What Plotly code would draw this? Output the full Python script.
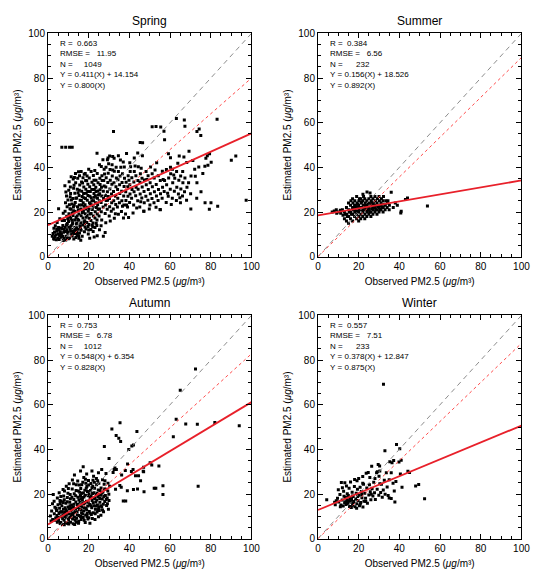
import plotly.graph_objects as go

# ---------------- data ----------------
seasons = ["Spring", "Summer", "Autumn", "Winter"]
r_vals = ["0.663", "0.384", "0.753", "0.557"]
rmse_vals = ["11.95", "6.56", "6.78", "7.51"]
n_vals = ["1049", "232", "1012", "233"]
fit_slope = [0.411, 0.156, 0.548, 0.378]
fit_icpt = [14.154, 18.526, 6.354, 12.847]
origin_slope = [0.800, 0.892, 0.828, 0.875]
axis_ticks = [0, 20, 40, 60, 80, 100]

spring_pts = [
    (2.1,9.2),(2.8,8.1),(3.2,11.0),(3.9,9.8),(4.3,12.4),(4.8,8.3),(5.2,13.1),(5.7,9.4),(6.1,11.2),(6.6,10.1),
    (6.9,12.6),(7.3,14.0),(7.8,8.2),(8.2,11.3),(8.5,13.2),(8.9,9.1),(9.3,12.1),(9.8,10.2),(10.2,13.3),(10.6,8.4),
    (11.1,11.4),(11.4,13.8),(11.9,9.3),(12.3,12.2),(12.8,10.4),(13.2,13.1),(13.7,8.6),(14.1,11.2),(14.6,12.3),(15.0,9.4),
    (15.5,10.6),(15.9,13.4),(3.6,13.9),(5.9,12.8),(9.1,14.3),(12.0,14.6),(2.9,12.7),(5.1,10.2),(10.0,8.0),(13.4,12.0),
    (6.3,8.7),(7.7,10.9),(11.6,10.1),(14.4,9.9),(4.1,7.6),(16.3,11.8),(8.7,7.5),(12.7,7.9),
    (2.5,10.4),(3.4,9.0),(4.4,11.4),(5.4,11.9),(6.0,9.9),(7.2,9.2),(7.9,12.3),(9.6,11.1),(10.9,12.6),(12.5,11.0),
    (13.9,10.3),(3.0,7.8),(5.5,7.7),(7.5,7.2),(9.4,8.3),
    (4.5,15.3),(5.8,17.0),(7.0,16.2),(7.5,19.4),(5.2,21.5),
    (8.1,16.2),(8.4,20.3),(8.6,24.1),(8.3,31.8),(9.2,18.1),(9.4,22.4),(9.1,27.2),(10.1,15.8),(10.3,19.2),(10.5,23.3),
    (10.2,29.7),(10.4,33.6),(11.2,17.1),(11.3,21.2),(11.5,25.4),(11.1,28.3),(11.4,35.8),(12.1,15.2),(12.3,18.4),(12.5,22.3),
    (12.2,26.1),(12.6,30.7),(13.1,16.4),(13.3,20.2),(13.4,24.3),(13.2,28.4),(13.6,33.1),(13.5,37.2),(14.2,15.1),(14.3,18.2),
    (14.5,22.4),(14.1,26.3),(14.4,30.2),(14.6,35.1),(15.1,16.3),(15.2,19.1),(15.4,23.2),(15.3,27.4),(15.6,32.1),(15.5,36.2),
    (16.1,15.2),(16.3,18.3),(16.2,21.4),(16.4,25.2),(16.6,29.3),(16.5,33.4),(16.3,38.1),(17.1,14.2),(17.2,17.3),(17.4,20.2),
    (17.3,24.1),(17.5,28.3),(17.6,31.2),(17.2,35.4),(18.1,16.1),(18.3,19.2),(18.2,23.3),(18.4,26.1),(18.6,30.2),(18.5,34.1),
    (18.3,37.3),(19.1,15.3),(19.2,18.4),(19.4,22.1),(19.3,25.3),(19.5,29.2),(19.6,32.4),(19.2,36.1),(20.1,14.4),(20.3,17.2),
    (20.2,21.3),(20.4,24.2),(20.6,27.1),(20.5,31.3),(20.3,35.2),(21.1,16.2),(21.2,19.3),(21.4,23.1),(21.3,26.4),(21.5,30.1),
    (21.6,33.3),(21.2,38.2),(22.1,15.1),(22.3,18.2),(22.2,22.4),(22.4,25.1),(22.6,28.3),(22.5,32.2),(22.3,36.4),(23.1,17.3),
    (23.2,20.1),(23.4,24.2),(23.3,27.3),(23.5,31.1),(23.6,34.2),(24.1,16.4),(24.2,19.1),(24.4,23.3),(24.3,26.2),(24.5,29.4),
    (24.6,33.1),(24.2,37.2),(25.1,18.2),(25.3,21.3),(25.2,25.1),(25.4,28.2),(25.6,32.3),(25.5,35.1),(25.3,41.2),
    (9.7,17.0),(10.8,21.5),(11.9,19.6),(12.9,23.0),(13.8,17.6),(14.9,21.0),(15.8,25.3),(16.9,19.8),(17.8,22.6),(18.8,17.7),
    (19.8,20.4),(20.8,23.7),(21.8,21.1),(22.8,26.6),(23.8,22.0),(24.8,27.6),(10.9,26.8),(12.8,32.0),(14.8,28.6),(16.8,27.0),
    (18.8,28.4),(20.8,29.2),(22.8,30.1),(11.7,16.3),(13.9,14.6),(15.7,13.9),(17.7,15.6),(19.7,13.5),(21.7,14.1),(23.7,15.0),
    (12.4,34.8),(17.0,33.0),(19.0,34.0),
    (9.5,14.9),(10.7,17.9),(11.8,23.6),(12.6,20.6),(13.7,26.2),(14.6,16.6),(15.4,29.8),(16.6,23.1),(17.6,26.4),(18.6,21.3),
    (19.6,27.4),(20.6,19.1),(21.6,25.0),(22.6,34.2),(23.6,29.2),(24.6,21.2),(25.6,30.0),(26.6,34.1),(27.6,31.6),(28.6,25.2),
    (29.6,27.0),(11.0,31.2),(13.0,35.5),(15.0,38.0),(17.8,36.9),(20.0,39.2),(23.0,38.6),(27.8,37.0),(9.8,25.4),(8.8,29.0),
    (14.0,13.0),(16.0,12.4),(18.0,14.8),(20.0,12.0),(22.0,13.4),(24.0,14.0),(26.4,16.4),(28.4,15.2),(30.6,16.0),(32.6,17.2),
    (34.6,19.0),(36.6,22.6),(38.6,23.2),(39.8,34.2),(35.8,40.0),(31.8,38.8),(29.8,41.6),(27.0,43.4),(37.0,42.4),(42.8,40.6),
    (45.8,39.6),(48.6,34.6),(52.6,38.8),(56.6,34.6),(58.8,28.4),(61.8,36.6),(63.8,41.8),(66.8,44.6),(64.8,26.4),(60.6,23.4),
    (45.6,24.6),(43.6,21.8),(49.8,21.4),(41.8,19.6),(39.6,17.6),
    (15.2,8.2),(16.8,9.1),(17.9,11.2),(18.7,12.4),(19.8,10.1),(21.1,12.2),(22.2,11.3),(23.1,13.1),(24.2,9.4),(25.3,12.1),
    (26.1,13.8),(18.2,13.3),(16.1,7.4),(20.5,8.3),(27.2,9.1),(28.1,10.8),(22.7,8.8),
    (26.2,20.1),(26.1,24.3),(26.4,27.2),(26.3,31.1),(26.5,36.2),(26.2,40.4),(27.1,22.2),(27.3,26.1),(27.2,29.3),(27.4,34.1),
    (27.6,39.2),(28.1,19.3),(28.3,23.1),(28.2,27.4),(28.4,31.2),(28.6,35.3),(28.5,40.1),(29.1,21.2),(29.3,25.3),(29.2,29.1),
    (29.4,33.2),(29.6,37.4),(29.5,44.2),(30.1,18.2),(30.3,22.4),(30.2,26.1),(30.4,30.3),(30.6,34.2),(30.5,39.1),(30.3,45.1),
    (31.1,20.3),(31.3,24.2),(31.2,28.1),(31.4,32.4),(31.6,36.1),(31.5,41.2),(32.1,21.4),(32.3,25.1),(32.2,29.2),(32.4,33.1),
    (32.6,38.3),(32.5,44.1),(33.1,19.2),(33.3,23.4),(33.2,27.1),(33.4,31.3),(33.6,35.2),(33.5,40.1),(34.1,22.3),(34.3,26.2),
    (34.2,30.1),(34.4,34.4),(34.6,38.2),(35.1,24.1),(35.3,28.3),(35.2,32.2),(35.4,36.1),(35.6,43.3),(36.1,20.2),(36.3,25.1),
    (36.2,29.3),(36.4,33.2),(36.6,37.1),(37.1,17.3),(37.3,23.1),(37.2,27.2),(37.4,31.4),(37.6,35.1),(37.5,40.2),(38.1,19.1),
    (38.3,25.2),(38.2,29.1),(38.4,33.3),(38.6,46.2),(39.1,22.2),(39.3,27.1),(39.2,31.3),(39.4,36.2),(40.1,24.3),(40.3,28.1),
    (40.2,32.2),(40.4,38.1),(40.6,40.3),
    (41.1,26.2),(41.3,30.1),(41.2,35.3),(42.1,23.2),(42.3,29.1),(42.2,33.4),(42.4,38.2),(43.1,27.3),(43.3,31.1),(43.2,36.2),
    (44.1,25.1),(44.3,30.2),(44.2,34.1),(44.4,40.3),(45.1,22.2),(45.3,28.1),(45.2,33.3),(45.4,37.1),(46.1,26.3),(46.3,31.2),
    (46.2,35.1),(46.4,45.2),(47.1,20.4),(47.3,24.1),(47.2,29.2),(47.4,34.3),(48.1,27.1),(48.3,32.2),(48.2,38.1),(49.1,25.3),
    (49.3,30.1),(49.2,36.2),(50.1,23.1),(50.3,28.2),(50.2,33.1),(50.4,40.2),(51.1,26.1),(51.3,31.3),(51.2,37.1),(52.1,24.2),
    (52.3,29.1),(52.2,35.2),(53.1,22.1),(53.3,27.2),(53.2,32.3),(53.4,42.1),(54.1,25.2),(54.3,30.1),(54.2,36.3),(55.1,21.1),
    (55.3,28.2),(55.2,34.1),
    (56.1,26.2),(56.3,31.1),(56.2,38.3),(57.1,29.2),(57.3,34.1),(58.1,24.3),(58.3,32.2),(58.2,39.1),(59.1,27.1),(59.3,35.2),
    (59.2,46.1),(60.1,30.2),(60.3,37.1),(60.2,44.3),(61.1,26.2),(61.3,33.1),(61.2,39.2),(62.1,29.3),(62.3,35.1),(63.1,25.2),
    (63.3,31.1),(63.2,38.2),(64.1,28.1),(64.3,34.2),(65.1,24.1),(65.3,30.3),(65.2,36.1),(66.1,27.2),(66.3,33.1),(66.2,38.2),
    (67.1,29.1),(67.3,35.2),(68.1,25.3),(68.3,31.1),(68.2,42.2),(69.1,33.1),(69.3,47.2),(70.1,28.2),(70.3,36.1),
    (71.2,43.1),(72.1,39.2),(72.4,36.0),(73.2,33.1),(74.1,40.2),(75.2,29.1),(76.1,37.2),(77.1,40.5),(77.6,44.1),(78.3,45.2),
    (79.4,46.1),(78.6,41.0),(80.2,42.3),
    (6.8,49.0),(8.7,49.0),(10.6,49.0),(11.9,49.0),(32.2,56.1),(45.3,51.1),(46.5,51.0),(51.2,58.2),(53.1,58.3),(55.4,58.1),
    (57.0,56.2),(57.3,52.4),(63.1,61.9),(67.0,61.2),(67.3,58.4),(83.1,61.6),(73.2,56.1),(74.3,57.2),(75.1,54.3),(90.1,43.2),
    (92.3,45.1),(97.4,25.3),(77.2,24.1),(79.3,21.2),(80.1,24.2),(83.4,22.6),(70.2,21.3),(73.1,26.2),(47.1,20.3),(55.2,21.0),
    (24.1,46.3),(29.2,43.4),(31.8,44.9),(34.6,45.2),(40.2,42.1),(42.4,44.2),(44.1,46.4),(60.2,40.1),(64.5,45.1),
]

summer_pts = [
    (7.0,20.0),(8.0,20.5),(9.0,21.0),(9.2,19.5),(10.0,20.0),(11.0,20.8),(11.2,19.5),(12.0,21.0),(13.0,20.0),(12.3,18.5),
    (13.0,17.0),(14.0,16.0),(14.2,19.0),(14.0,22.0),(15.0,15.0),(15.1,18.0),(15.2,21.0),(15.0,24.0),(16.0,17.0),(16.1,20.0),
    (16.0,23.0),(16.2,25.0),(17.0,16.0),(17.1,19.0),(17.0,22.0),(17.2,24.0),(17.0,26.0),(18.0,18.0),(18.1,20.0),(18.2,21.0),
    (18.0,23.0),(18.1,25.0),(19.0,17.0),(19.1,19.0),(19.0,22.0),(19.2,24.0),(19.0,27.0),(20.0,16.0),(20.1,18.0),(20.0,20.0),
    (20.2,21.0),(20.0,23.0),(20.1,25.0),(21.0,17.0),(21.1,19.0),(21.0,22.0),(21.2,24.0),(21.0,26.0),(22.0,18.0),(22.1,20.0),
    (22.0,21.0),(22.2,23.0),(22.0,25.0),(22.1,28.0),(23.0,17.0),(23.1,19.0),(23.0,22.0),(23.2,24.0),(23.0,26.0),(24.0,18.0),
    (24.1,20.0),(24.0,21.0),(24.2,23.0),(24.0,25.0),(24.1,29.0),(25.0,19.0),(25.1,21.0),(25.0,22.0),(25.2,24.0),(25.0,26.0),
    (25.6,28.5),(26.0,18.0),(26.1,20.0),(26.0,23.0),(26.2,25.0),(26.0,27.0),(27.0,19.0),(27.1,21.0),(27.0,22.0),(27.2,24.0),
    (27.0,26.0),(28.0,20.0),(28.1,22.0),(28.0,23.0),(28.2,25.0),(28.0,27.0),(29.0,19.0),(29.1,21.0),(29.0,24.0),(29.2,26.0),
    (30.0,20.0),(30.1,22.0),(30.0,23.0),(30.2,25.0),(30.0,27.0),(31.0,21.0),(31.1,23.0),(31.0,24.0),(31.2,26.0),(32.0,20.0),
    (32.1,22.0),(32.0,25.0),(32.2,27.0),(33.0,21.0),(33.1,23.0),(34.0,22.0),(34.1,24.0),(35.0,21.0),(35.1,23.0),(36.0,28.8),
    (37.0,22.0),(38.0,24.0),(39.0,23.0),(40.7,19.6),(40.9,20.3),(43.0,25.6),(44.0,26.3),(53.8,22.7),
    (18.4,22.5),(20.4,22.0),(21.4,21.0),(23.4,21.0),(22.4,22.5),(24.4,22.0),(26.4,21.5),(27.4,23.0),(19.4,20.5),(25.4,20.0),
    (21.4,24.5),(23.4,23.0),(29.4,22.5),(30.4,21.0),(16.4,19.0),(17.4,21.0),(19.4,23.5),(28.4,21.0),(26.4,24.0),(24.4,24.0),
    (32.4,23.5),(33.4,25.0),(31.4,22.0),(34.4,25.0),(20.4,26.0),(22.4,27.0),(15.4,20.0),(14.4,18.0),(13.4,19.0),
]

autumn_pts = [
    (1.2,10.1),(1.8,12.4),(2.3,8.6),(2.6,19.8),(3.1,11.2),(3.4,14.1),(3.8,9.3),(4.2,12.6),(4.6,7.4),(4.9,15.2),
    (2.2,15.6),(4.4,10.4),(1.5,7.9),
    (5.2,8.1),(5.4,11.3),(5.7,13.6),(5.9,17.1),(6.2,7.2),(6.4,9.8),(6.6,12.1),(6.8,14.7),(7.1,6.4),(7.3,10.6),(7.5,16.2),
    (7.7,19.1),(7.9,8.3),(8.2,11.7),(8.4,13.8),(8.6,7.1),(8.8,15.9),(9.1,9.4),(9.3,12.3),(9.5,18.4),(9.7,6.8),(9.9,14.2),
    (5.5,20.6),(8.1,21.3),(6.0,15.8),(7.0,11.9),(9.0,10.8),(8.0,17.4),
    (10.1,8.2),(10.3,11.1),(10.5,13.4),(10.7,16.3),(10.9,19.8),(11.1,7.3),(11.3,9.9),(11.5,12.6),(11.7,15.1),(11.9,22.3),
    (12.1,8.8),(12.3,10.7),(12.5,14.2),(12.7,17.6),(12.9,20.1),(13.1,6.4),(13.3,11.8),(13.5,13.3),(13.7,16.4),(13.9,24.2),
    (14.1,9.2),(14.3,12.1),(14.5,15.3),(14.7,18.6),(14.9,21.4),(10.4,24.6),(12.0,26.3),(13.0,9.6),(11.0,17.9),(14.0,7.4),
    (12.6,12.9),(10.8,14.8),(13.6,19.2),(11.6,11.0),
    (15.1,7.8),(15.3,10.4),(15.5,13.1),(15.7,16.2),(15.9,19.4),(16.1,22.5),(16.3,8.6),(16.5,11.6),(16.7,14.3),(16.9,17.2),
    (17.1,25.3),(17.3,9.5),(17.5,12.4),(17.7,15.6),(17.9,18.8),(18.1,21.7),(18.3,7.2),(18.5,10.6),(18.7,13.5),(18.9,16.8),
    (19.1,23.4),(19.3,11.3),(19.5,14.6),(19.7,19.2),(19.9,26.1),(15.4,24.0),(16.6,20.3),(17.6,27.4),(18.6,24.8),(19.6,8.8),
    (15.8,14.8),(16.4,17.9),(17.4,20.5),(18.4,19.4),(19.0,12.8),(17.0,11.1),
    (20.1,9.4),(20.3,12.2),(20.5,15.3),(20.7,18.4),(20.9,21.6),(21.1,24.7),(21.3,10.8),(21.5,13.9),(21.7,17.1),(21.9,20.2),
    (22.1,26.2),(22.3,11.6),(22.5,14.8),(22.7,18.3),(22.9,22.6),(23.1,8.6),(23.3,13.2),(23.5,16.4),(23.7,19.7),(23.9,24.1),
    (24.1,11.9),(24.3,15.1),(24.5,18.9),(24.7,21.8),(24.9,14.0),(20.6,6.9),(22.0,23.5),(23.8,27.0),(21.2,19.0),(24.0,17.3),
    (25.2,12.6),(25.5,16.3),(25.8,19.4),(26.1,22.7),(26.4,14.2),(26.7,17.8),(27.0,20.9),(27.3,12.1),(27.6,24.4),(27.9,16.6),
    (28.2,19.3),(28.5,22.1),(28.8,14.9),(29.1,18.2),(29.4,21.4),(29.7,13.2),(30.0,17.1),(30.3,23.5),(25.0,24.8),(26.0,10.5),
    (28.0,26.0),(29.9,19.9),
    (3.5,8.2),(4.0,13.5),(5.0,9.5),(5.8,12.0),(6.5,16.8),(7.2,8.9),(7.6,13.2),(8.3,9.8),(8.9,12.9),(9.4,16.5),
    (9.8,20.4),(10.6,9.5),(11.2,13.8),(11.8,18.6),(12.2,11.6),(12.8,15.4),(13.4,8.2),(13.8,21.6),(14.4,10.6),(14.8,13.9),
    (15.2,17.4),(15.6,20.8),(16.0,9.9),(16.2,12.9),(16.8,15.8),(17.2,18.4),(17.8,13.9),(18.2,16.2),(18.8,22.6),(19.2,9.9),
    (19.8,16.3),(20.2,20.1),(20.8,11.4),(21.0,14.8),(21.6,22.8),(22.2,16.1),(22.6,20.6),(23.2,11.2),(23.6,14.6),(24.2,20.3),
    (24.6,12.9),(25.4,18.0),(25.9,14.8),(26.5,20.4),(27.2,15.4),(27.8,22.2),(28.6,17.6),(29.2,15.6),(21.8,9.0),(17.8,8.3),
    (15.0,6.9),(12.4,6.7),(10.2,6.6),(8.0,6.2),(6.0,6.8),(24.8,9.8),(26.8,12.8),(3.0,16.8),(4.6,18.2),(6.3,18.9),
    (7.4,22.0),(10.0,22.5),(12.6,24.6),(14.6,25.8),(16.6,24.2),(18.4,26.6),(20.0,24.0),(22.8,25.3),(24.4,26.0),(26.8,26.4),
    (29.5,24.8),(25.6,21.6),(27.4,18.9),(23.0,18.0),(19.4,21.1),(16.0,19.0),
    (17.3,32.2),(16.0,30.3),(21.6,30.3),(22.4,28.0),(26.4,31.0),(28.5,29.2),(24.8,29.5),(27.7,41.3),(30.0,35.9),(32.9,31.7),
    (32.0,29.6),(33.6,31.0),(19.0,29.0),(13.0,28.5),(9.0,23.5),
    (72.5,76.0),(65.0,66.5),(63.0,53.5),(67.7,51.4),(73.4,51.3),(82.0,52.0),(94.0,50.6),(73.8,23.5),(61.6,45.7),(56.5,23.7),
    (56.5,19.8),(54.5,32.5),(52.2,22.6),(53.0,22.6),(50.2,34.0),(51.0,33.0),(47.0,32.0),(46.8,30.2),(47.2,21.0),(43.7,48.0),
    (42.0,42.0),(41.2,41.5),(39.7,39.9),(39.1,33.5),(41.0,30.1),(41.8,31.0),(43.0,28.2),(44.5,28.2),(42.0,22.0),(44.0,22.2),
    (39.0,21.5),(35.4,51.9),(31.4,49.1),(33.5,46.2),(34.8,45.0),(35.7,43.5),(32.5,31.0),(35.3,23.8),(36.0,23.0),(37.0,16.9),
    (38.2,16.9),(33.2,22.1),(36.2,28.5),(38.0,30.5),(45.5,26.0),(47.0,30.0),
]

winter_pts = [
    (32.2,69.2),(32.9,39.4),(38.6,42.2),(40.2,40.3),(37.2,35.0),(35.3,34.5),(36.4,34.0),(30.3,32.6),(29.2,30.0),(30.4,30.3),
    (39.8,34.3),(40.9,35.1),(40.5,29.0),(44.2,30.2),(45.0,29.6),(48.0,23.6),(49.5,24.3),(52.4,17.9),(37.8,16.4),(36.0,18.0),
    (35.0,18.2),(4.3,17.4),(8.2,16.3),(9.0,17.0),
    (8.5,15.2),(9.6,18.1),(10.2,16.4),(10.8,19.8),(11.3,15.1),(11.5,25.2),(11.9,17.3),(12.4,14.6),(12.6,21.2),(13.1,16.1),
    (13.2,25.0),(13.5,18.6),(13.8,15.3),(14.2,17.4),(14.4,20.1),(14.7,15.8),(15.0,16.9),(15.3,22.6),(15.5,14.4),(15.8,18.2),
    (16.0,25.4),(16.2,16.3),(16.5,17.6),(16.8,20.8),(17.0,15.0),(17.3,18.9),(17.6,16.7),(17.9,23.4),(18.2,14.3),(18.5,17.8),
    (18.8,20.3),(19.1,15.6),(19.2,25.9),(19.4,22.1),(19.7,17.1),(20.0,27.0),(20.1,19.4),(20.4,14.8),(20.7,23.0),(21.0,16.2),
    (21.3,21.1),(21.6,18.3),(22.0,24.8),(22.4,24.4),(22.6,16.8),(23.0,20.4),(23.4,18.1),(23.7,29.3),(24.0,22.7),(24.3,15.9),
    (24.7,29.6),(25.0,19.6),(25.3,24.1),(25.7,21.0),(26.0,17.4),(26.4,32.4),(26.6,22.4),(27.0,19.1),(27.4,25.3),(27.8,20.6),
    (28.2,17.6),(28.8,29.5),(29.1,22.1),(29.6,33.2),(29.9,19.4),(30.4,24.6),(30.8,20.7),(31.2,24.4),(31.6,18.6),(32.1,21.8),
    (32.6,26.2),(33.0,19.9),(33.6,29.5),(34.0,23.1),(34.5,19.3),(35.0,26.4),(36.0,29.5),(36.9,24.8),(37.5,21.4),(38.3,25.6),
    (41.3,23.0),(12.0,22.8),(14.0,23.6),(10.0,21.9),(18.0,26.5),(22.0,27.8),(25.5,27.4),(28.0,27.0),(30.0,28.0),(13.6,16.5),
    (15.6,17.3),(17.4,16.1),(19.5,18.9),(21.5,19.8),(14.9,19.3),(16.9,19.1),(12.8,19.0),(11.0,14.3),(20.8,15.5),(23.5,16.6),
    (26.2,19.9),(19.0,13.6),(22.1,14.2),(16.4,14.0),
]

all_pts = [spring_pts, summer_pts, autumn_pts, winter_pts]

# ---------------- layout geometry ----------------
W, H = 550, 576
x_doms = [(46 / W, 254 / W), (322 / W, 530 / W), (46 / W, 254 / W), (322 / W, 530 / W)]
y_doms = [(1 - 256 / H, 1 - 28 / H), (1 - 256 / H, 1 - 28 / H),
          (1 - 544 / H, 1 - 316 / H), (1 - 544 / H, 1 - 316 / H)]
title_y = [1 - 15.5 / H, 1 - 15.5 / H, 1 - 303.5 / H, 1 - 303.5 / H]

FONT = "Liberation Sans, Arial, sans-serif"
NB = "\u00a0"

fig = go.Figure()
annotations = []

for i in range(4):
    sfx = "" if i == 0 else str(i + 1)
    xa, ya = "x" + sfx, "y" + sfx
    pts = all_pts[i]
    fig.add_trace(go.Scatter(
        x=[p[0] for p in pts], y=[p[1] for p in pts], mode="markers",
        marker=dict(symbol="square", size=3, color="black", line=dict(width=0)),
        xaxis=xa, yaxis=ya, showlegend=False, hoverinfo="skip"))
    # 1:1 line
    fig.add_trace(go.Scatter(x=[0, 100], y=[0, 100], mode="lines",
                             line=dict(color="#8c8c8c", width=1, dash="5px,4px"),
                             xaxis=xa, yaxis=ya, showlegend=False, hoverinfo="skip"))
    # through-origin fit
    fig.add_trace(go.Scatter(x=[0, 100], y=[0, origin_slope[i] * 100], mode="lines",
                             line=dict(color="#ff4a4a", width=1, dash="dot"),
                             xaxis=xa, yaxis=ya, showlegend=False, hoverinfo="skip"))
    # linear regression
    fig.add_trace(go.Scatter(x=[0, 100], y=[fit_icpt[i], fit_slope[i] * 100 + fit_icpt[i]],
                             mode="lines", line=dict(color="#e8202a", width=1.8),
                             xaxis=xa, yaxis=ya, showlegend=False, hoverinfo="skip"))

    ax_common = dict(range=[0, 100], tickmode="array", tickvals=axis_ticks,
                     ticktext=[str(t) for t in axis_ticks],
                     showline=True, linecolor="black", linewidth=1, mirror="ticks",
                     ticks="inside", ticklen=5, tickwidth=1, tickcolor="black",
                     minor=dict(dtick=5, tick0=0, ticks="inside", ticklen=3,
                                tickwidth=1, tickcolor="black", showgrid=False),
                     showgrid=False, zeroline=False,
                     tickfont=dict(family=FONT, size=10, color="black"))
    fig.layout["xaxis" + sfx] = dict(ax_common, domain=list(x_doms[i]), anchor=ya,
                                    title=dict(text="Observed PM2.5 (<i>μg</i>/m³)",
                                               font=dict(family=FONT, size=10, color="black"),
                                               standoff=7))
    fig.layout["yaxis" + sfx] = dict(ax_common, domain=list(y_doms[i]), anchor=xa,
                                    title=dict(text="Estimated PM2.5 (<i>μg</i>/m³)",
                                               font=dict(family=FONT, size=10, color="black"),
                                               standoff=4))

    annotations.append(dict(text=seasons[i], xref="paper", yref="paper",
                            x=(x_doms[i][0] + x_doms[i][1]) / 2, y=title_y[i],
                            xanchor="center", yanchor="middle", showarrow=False,
                            font=dict(family=FONT, size=12, color="black")))
    lines = [
        "R =" + NB * 2 + r_vals[i],
        "RMSE =" + NB * 3 + rmse_vals[i],
        "N =" + NB * (9 - len(n_vals[i])) + n_vals[i],
        "Y = %.3f(X) + %.3f" % (fit_slope[i], fit_icpt[i]),
        "Y = %.3f(X)" % origin_slope[i],
    ]
    stats_text = "<br>".join(t.replace(" ", NB) for t in lines)
    annotations.append(dict(text=stats_text, xref=xa, yref=ya, x=5.0, y=98.3,
                            xanchor="left", yanchor="top", align="left", showarrow=False,
                            font=dict(family=FONT, size=8, color="black")))

fig.update_layout(width=W, height=H, margin=dict(l=0, r=0, t=0, b=0),
                  paper_bgcolor="white", plot_bgcolor="white",
                  font=dict(family=FONT, color="black"),
                  annotations=annotations)

fig.write_html("out.html")
